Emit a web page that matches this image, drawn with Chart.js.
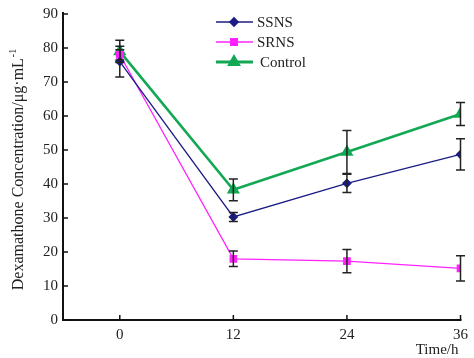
<!DOCTYPE html>
<html>
<head>
<meta charset="utf-8">
<script src="https://cdn.jsdelivr.net/npm/chart.js@4"></script>
<style>
  html, body { margin: 0; padding: 0; background: #fff; }
  #wrap { width: 474px; height: 358px; position: relative; }
</style>
</head>
<body>
<div id="wrap"><canvas id="c" width="474" height="358"></canvas></div>
<script>
// ── Данные ──────────────────────────────────────────
const times      = [0, 12, 24, 36];
const xTicks     = [0, 12, 24, 36];
const yTicks     = [0, 10, 20, 30, 40, 50, 60, 70, 80, 90];
const ssns       = [76, 30.3, 40.2, 48.7];
const ssnsErr    = [4.5, 1.3, 2.7, 4.6];
const srns       = [78, 18, 17.3, 15.2];
const srnsErr    = [1.5, 2.3, 3.4, 3.7];
const control    = [79, 38.3, 49.4, 60.6];
const controlErr = [3.3, 3.2, 6.3, 3.4];
const names      = ['SSNS', 'SRNS', 'Control'];
const yTitle     = 'Dexamathone Concentration/μg·mL';
const yTitleSup  = '-1';

const FONT = '"Liberation Serif", "DejaVu Serif", serif';

function pts(vals) { return vals.map((v, i) => ({ x: times[i], y: v })); }

const datasets = [
  { label: names[0], data: pts(ssns), err: ssnsErr, borderColor: '#1c1c86', backgroundColor: '#1c1c86',
    borderWidth: 1.3, pointStyle: 'rectRot', pointRadius: 4 },
  { label: names[1], data: pts(srns), err: srnsErr, borderColor: '#ff22ff', backgroundColor: '#ff22ff',
    borderWidth: 1.3, pointStyle: 'rect', pointRadius: 4.5 },
  { label: names[2], data: pts(control), err: controlErr, borderColor: '#12a854', backgroundColor: '#12a854',
    borderWidth: 2.6, pointStyle: 'triangle', pointRadius: 5 },
];

// ── Оси, тики внутрь, планки ошибок, легенда ────────
const decor = {
  id: 'decor',
  afterDatasetsDraw(chart) {
    const ctx = chart.ctx;
    const xs = chart.scales.x, ys = chart.scales.y;
    const a = chart.chartArea;
    ctx.save();

    // планки погрешностей
    ctx.strokeStyle = '#222';
    ctx.lineWidth = 1.5;
    chart.data.datasets.forEach((ds) => {
      ds.data.forEach((p, i) => {
        const px = xs.getPixelForValue(p.x);
        const top = ys.getPixelForValue(p.y + ds.err[i]);
        const bot = ys.getPixelForValue(p.y - ds.err[i]);
        ctx.beginPath();
        ctx.moveTo(px, top); ctx.lineTo(px, bot);
        ctx.moveTo(px - 4.5, top); ctx.lineTo(px + 4.5, top);
        ctx.moveTo(px - 4.5, bot); ctx.lineTo(px + 4.5, bot);
        ctx.stroke();
      });
    });

    // оси
    ctx.strokeStyle = '#111';
    ctx.lineWidth = 2;
    ctx.beginPath();
    ctx.moveTo(a.left, a.top - 2); ctx.lineTo(a.left, a.bottom);
    ctx.lineTo(a.right + 1, a.bottom);
    ctx.stroke();

    ctx.lineWidth = 1.5;
    ctx.beginPath();
    yTicks.forEach((v) => {
      const py = ys.getPixelForValue(v);
      ctx.moveTo(a.left, py); ctx.lineTo(a.left + 5, py);
    });
    xTicks.forEach((v) => {
      const px = xs.getPixelForValue(v);
      ctx.moveTo(px, a.bottom); ctx.lineTo(px, a.bottom - 5);
    });
    ctx.stroke();

    // подписи осей
    ctx.fillStyle = '#222';
    ctx.font = '15px ' + FONT;
    ctx.textAlign = 'right';
    ctx.textBaseline = 'middle';
    ctx.fillText('Time/h', a.right - 2, 350);

    ctx.save();
    ctx.translate(23, 170);
    ctx.rotate(-Math.PI / 2);
    ctx.font = '16px ' + FONT;
    ctx.textBaseline = 'alphabetic';
    const wMain = ctx.measureText(yTitle).width;
    ctx.font = '10px ' + FONT;
    const wSup = ctx.measureText(yTitleSup).width;
    const x0 = -(wMain + wSup) / 2;
    ctx.textAlign = 'left';
    ctx.font = '16px ' + FONT;
    ctx.fillText(yTitle, x0, 0);
    ctx.font = '10px ' + FONT;
    ctx.fillText(yTitleSup, x0 + wMain + 1, -7);
    ctx.restore();

    // легенда
    ctx.font = '15px ' + FONT;
    const ly = [22, 42, 62];
    chart.data.datasets.forEach((ds, i) => {
      ctx.strokeStyle = ds.borderColor;
      ctx.lineWidth = ds.borderWidth + 0.4;
      ctx.beginPath();
      ctx.moveTo(216, ly[i]); ctx.lineTo(253, ly[i]);
      ctx.stroke();
      Chart.helpers.drawPoint(ctx, {
        pointStyle: ds.pointStyle, radius: ds.pointRadius, rotation: 0, borderWidth: 1
      }, 234, ly[i]);
      ctx.fillStyle = ds.backgroundColor;
      ctx.fill();
      ctx.fillStyle = '#222';
      ctx.textAlign = 'left';
      ctx.fillText(ds.label, 257 + (i === 2 ? 3 : 0), ly[i] + 1);
    });
    ctx.restore();
  }
};

new Chart(document.getElementById('c'), {
  type: 'line',
  data: { datasets },
  options: {
    responsive: false,
    animation: false,
    layout: { padding: { top: 11, right: 9, left: 0, bottom: 0 } },
    plugins: { legend: { display: false }, tooltip: { enabled: false } },
    elements: { line: { tension: 0 } },
    scales: {
      x: {
        type: 'linear', min: -6, max: 36,
        afterBuildTicks: (s) => { s.ticks = xTicks.map((v) => ({ value: v })); },
        afterFit: (s) => { s.height = 38; },
        grid: { display: false, drawTicks: false, tickLength: 0 },
        border: { display: false },
        ticks: { color: '#222', font: { family: FONT, size: 15 }, padding: 6, maxRotation: 0 },
      },
      y: {
        min: 0, max: 90,
        afterBuildTicks: (s) => { s.ticks = yTicks.map((v) => ({ value: v })); },
        afterFit: (s) => { s.width = 63; },
        grid: { display: false, drawTicks: false, tickLength: 0 },
        border: { display: false },
        ticks: { color: '#222', font: { family: FONT, size: 15 }, padding: 5 },
      },
    },
  },
  plugins: [decor],
});
</script>
</body>
</html>
